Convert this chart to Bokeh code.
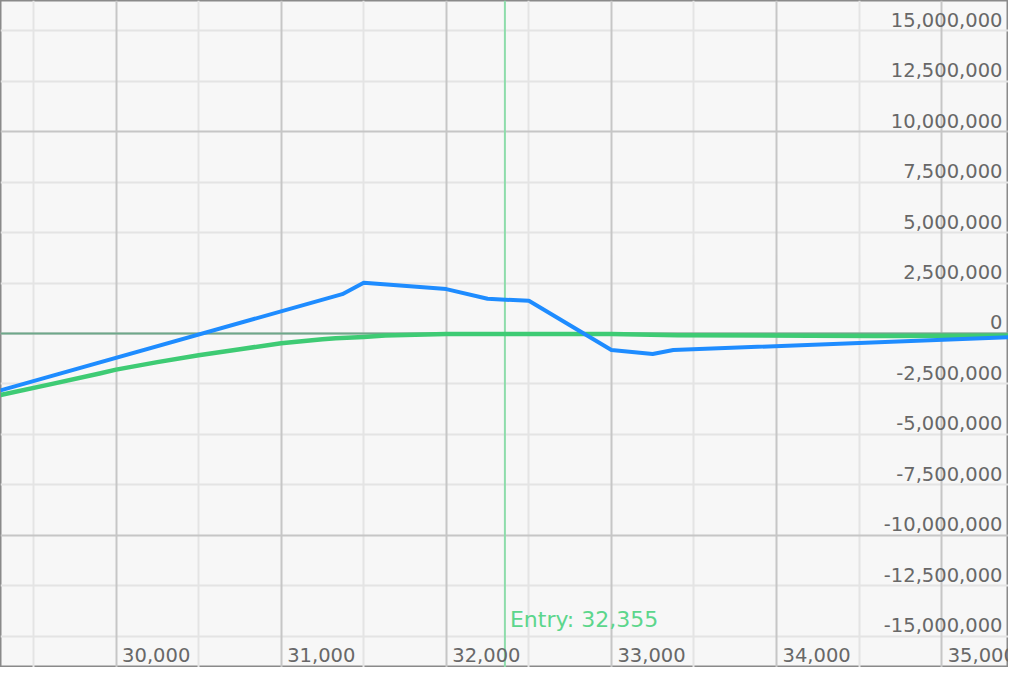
from bokeh.plotting import figure
from bokeh.models import Range1d, Grid, FixedTicker, Span, ColumnDataSource
from bokeh.core.properties import value
from bokeh.embed import file_html
from bokeh.resources import INLINE

# ---- data ----
price_blue = [29300, 31370, 31500, 32000, 32250, 32500, 33000, 33250, 33375, 35405]
pnl_blue = [-2820000, 1950000, 2520000, 2200000, 1720000, 1620000, -820000, -1020000, -820000, -190000]

price_green = [29300, 29600, 29900, 30000, 30250, 30500, 30750, 31000, 31250, 31330,
               31500, 31630, 31750, 32000, 32500, 33000, 33400, 34200, 34600, 35405]
pnl_green = [-3050000, -2520000, -1980000, -1790000, -1420000, -1080000, -780000, -480000, -290000, -240000,
             -170000, -100000, -70000, -30000, -20000, -30000, -90000, -110000, -120000, -110000]

entry_price = 32355
entry_label = "Entry: 32,355"

x_major = [30000, 31000, 32000, 33000, 34000, 35000]
x_minor = [29500, 30500, 31500, 32500, 33500, 34500]
x_labels = ["30,000", "31,000", "32,000", "33,000", "34,000", "35,000"]

y_ticks = [15000000, 12500000, 10000000, 7500000, 5000000, 2500000, 0,
           -2500000, -5000000, -7500000, -10000000, -12500000, -15000000]
y_labels = ["15,000,000", "12,500,000", "10,000,000", "7,500,000", "5,000,000", "2,500,000", "0",
            "-2,500,000", "-5,000,000", "-7,500,000", "-10,000,000", "-12,500,000", "-15,000,000"]
y_major = [10000000, -10000000, 0]

X0, X1 = 29300, 35405
Y0, Y1 = -16550000, 16500000

BG = "#f7f7f7"
p = figure(width=1008, height=667, output_backend="svg", toolbar_location=None,
           x_axis_type=None, y_axis_type=None,
           x_range=Range1d(X0, X1), y_range=Range1d(Y0, Y1),
           min_border=0, background_fill_color=BG, border_fill_color=BG,
           outline_line_color="#8a8a8a", outline_line_width=2)

minor_col = "#e4e4e4"
major_col = "#c6c6c6"
p.add_layout(Grid(dimension=0, ticker=FixedTicker(ticks=x_minor), grid_line_color=minor_col, grid_line_width=2))
p.add_layout(Grid(dimension=1, ticker=FixedTicker(ticks=[t for t in y_ticks if t not in y_major]),
                  grid_line_color=minor_col, grid_line_width=2))
p.add_layout(Grid(dimension=0, ticker=FixedTicker(ticks=x_major), grid_line_color=major_col, grid_line_width=2))
p.add_layout(Grid(dimension=1, ticker=FixedTicker(ticks=y_major), grid_line_color=major_col, grid_line_width=2))

p.add_layout(Span(location=0, dimension="width", line_color="#6ea88a", line_width=2, level="underlay"))
p.add_layout(Span(location=entry_price, dimension="height", line_color="#8edcab", line_width=2, level="underlay"))

p.line(price_green, pnl_green, line_color="#3ecb74", line_width=4.5, line_join="round")
p.line(price_blue, pnl_blue, line_color="#1e8cff", line_width=4, line_join="round")

font = value("DejaVu Sans")
ysrc = ColumnDataSource(dict(x=[X1] * len(y_ticks), y=y_ticks, t=y_labels))
p.text(x="x", y="y", text="t", source=ysrc, text_font=font, text_font_size="19.5px",
       text_color="#686868", text_align="right", text_baseline="bottom", x_offset=-6, y_offset=-4)

xsrc = ColumnDataSource(dict(x=x_major, y=[Y0] * len(x_major), t=x_labels))
p.text(x="x", y="y", text="t", source=xsrc, text_font=font, text_font_size="19.5px",
       text_color="#686868", text_align="left", text_baseline="bottom", x_offset=6, y_offset=-6)

p.text(x=[entry_price], y=[Y0], text=[entry_label], text_font=font, text_font_size="22px",
       text_color="#5cd68c", text_align="left", text_baseline="bottom", x_offset=5, y_offset=-36)

open("out.html", "w").write(file_html(p, INLINE))
